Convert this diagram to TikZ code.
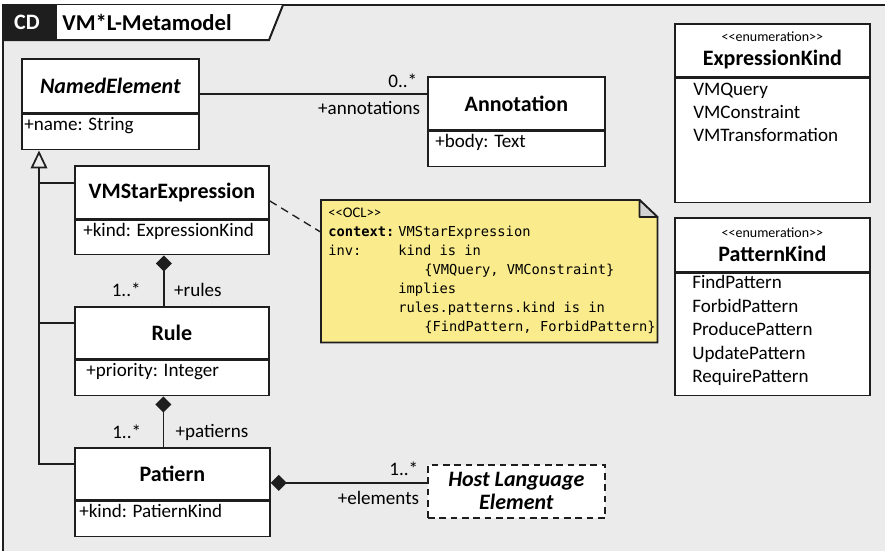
\documentclass[tikz,border=0pt]{standalone}
\usepackage{fontspec}
\setmainfont{Carlito}
\newfontfamily\oclmono{DejaVu Sans Mono}
\usetikzlibrary{arrows.meta,calc}

\definecolor{canvas}{HTML}{EBEBEB}
\definecolor{notefill}{HTML}{FAEC8C}
\definecolor{foldgray}{HTML}{D2D2D2}
\definecolor{ink}{HTML}{1E1E1E}

% guillemet-free stereotype brackets
\newcommand\stereo[1]{<\kern0pt<#1>\kern0pt>}

\tikzset{
  umlhead/.style={draw=ink, fill=white, line width=1.3pt, anchor=north west,
    inner sep=0pt, align=center, font=\fontsize{16.5}{17.25}\selectfont\bfseries},
  umlbody/.style={draw=ink, fill=white, line width=1.3pt, anchor=north west, inner sep=0pt},
  attrtext/.style={anchor=north west, inner xsep=0pt, inner ysep=2.5pt,
    font=\fontsize{14.3}{17}\selectfont},
  literal/.style={anchor=base west, inner sep=0pt, font=\fontsize{14.3}{17}\selectfont},
  role/.style={font=\fontsize{14.3}{17}\selectfont, inner sep=0pt},
  assoc/.style={draw=ink, line width=1.3pt},
  compose/.style={assoc, -{Diamond[length=12pt,width=12pt]}},
  inherit/.style={assoc, -{Triangle[open,length=13.5pt,width=12.5pt]}},
  ocl/.style={anchor=base west, inner sep=0pt, font=\oclmono\fontsize{10.3}{12}\selectfont},
}

% class box: name, x, y, width, head height, body height, title, attribute, indent (px)
\newcommand\umlclass[9]{%
  \node[umlhead, minimum width=#4*0.75pt, minimum height=#5*0.75pt] (#1) at (#2,#3) {#7};
  \node[umlbody, minimum width=#4*0.75pt, minimum height=#6*0.75pt] (#1-b) at (#1.south west) {};
  \node[attrtext] at ($(#1-b.north west)+(#9,0)$) {#8};
}

\begin{document}
\begin{tikzpicture}[x=0.75pt,y=-0.75pt]
\useasboundingbox (0,0) rectangle (885,550);

% diagram frame
\fill[canvas] (3,5) rectangle (886,551);
\draw[ink, line width=1.5pt] (3,551) -- (3,5) -- (886,5);
\fill[ink] (3,5) rectangle (57,40);
\fill[white] (57,5) -- (283,5) -- (269,40) -- (57,40) -- cycle;
\draw[ink, line width=1.5pt] (3,40) -- (269,40) -- (283,5);
\node[text=white, font=\fontsize{16.5}{18}\selectfont\bfseries] (cd) at (27,22) {CD};
\node[font=\fontsize{17}{19}\selectfont\bfseries] (title) at (147,22) {VM*L-Metamodel};

% classes
\umlclass{ne}{21}{58}{177}{54}{35}{\itshape NamedElement}{+name: String}{3}
\umlclass{ann}{427}{76}{177}{53}{35}{Annotation}{+body: Text}{8}
\umlclass{vmse}{74}{165}{194}{53}{34}{VMStarExpression}{+kind: ExpressionKind}{9}
\umlclass{rule}{74}{306}{194}{52}{35}{Rule}{+priority: Integer}{12}
\umlclass{pat}{74}{447}{195}{52}{35}{Patiern}{+kind: PatiernKind}{5}

\node[umlhead, dashed, dash pattern=on 5pt off 3.5pt, font=\fontsize{16.5}{17.25}\selectfont\bfseries\itshape,
  minimum width=177*0.75pt, minimum height=53*0.75pt] (hle) at (427,464) {Host Language\\Element};

% enumerations
\node[umlhead, minimum width=195*0.75pt, minimum height=53*0.75pt] (ek) at (674,23)
  {{\fontsize{10.5}{12}\selectfont\mdseries\stereo{enumeration}}\\[0.5pt]ExpressionKind};
\node[umlbody, minimum width=195*0.75pt, minimum height=124*0.75pt] (ek-b) at (ek.south west) {};
\foreach \lit [count=\i from 0] in {VMQuery,VMConstraint,VMTransformation}
  \node[literal] at ($(ek-b.north west)+(19,18+23*\i)$) {\lit};

\node[umlhead, minimum width=195*0.75pt, minimum height=54*0.75pt] (pk) at (674,217)
  {{\fontsize{10.5}{12}\selectfont\mdseries\stereo{enumeration}}\\[0.5pt]PatternKind};
\node[umlbody, minimum width=195*0.75pt, minimum height=122*0.75pt] (pk-b) at (pk.south west) {};
\foreach \lit [count=\i from 0] in {FindPattern,ForbidPattern,ProducePattern,UpdatePattern,RequirePattern}
  \node[literal] at ($(pk-b.north west)+(18,16+23.5*\i)$) {\lit};

% OCL note
\node[anchor=north west, inner sep=0pt, minimum width=336*0.75pt, minimum height=142*0.75pt] (note) at (321,200) {};
\filldraw[fill=notefill, draw=ink, line width=1.3pt]
  (note.north west) -- ($(note.north east)+(-18,0)$) -- ($(note.north east)+(0,17)$)
  -- (note.south east) -- (note.south west) -- cycle;
\filldraw[fill=foldgray, draw=ink, line width=1.3pt, line join=round]
  ($(note.north east)+(-18,0)$) -- ($(note.north east)+(-18,17)$) -- ($(note.north east)+(0,17)$) -- cycle;
\node[anchor=base west, inner sep=0pt, font=\fontsize{11}{13}\selectfont] at (328,217) {\stereo{OCL}};
\node[ocl] at (328,236) {\bfseries context:};
\node[ocl] at (398,236) {VMStarExpression};
\node[ocl] at (328,255) {inv:};
\node[ocl] at (398,255) {kind is in};
\node[ocl] at (424,274) {\{VMQuery, VMConstraint\}};
\node[ocl] at (398,293) {implies};
\node[ocl] at (398,312) {rules.patterns.kind is in};
\node[ocl] at (424,331) {\{FindPattern, ForbidPattern\}};

\draw[ink, line width=1pt, dash pattern=on 6pt off 4pt] ([yshift=-6.4pt]vmse.east) -- ([yshift=29.25pt]note.west);

% NamedElement -- Annotation
\coordinate (nej) at ([yshift=-6pt]ne.east);
\draw[assoc] (nej) -- (ann.west |- nej)
  node[pos=1, role, anchor=south east, xshift=-6.75pt, yshift=3.75pt] {0..*}
  node[pos=1, role, anchor=north east, xshift=-4.5pt, yshift=-5pt] {+annotations};

% generalizations
\coordinate (gtip) at ($(ne-b.south west)+(18,0)$);
\coordinate (gv) at ([yshift=7pt]vmse.west);
\coordinate (gr) at ([yshift=7.5pt]rule.west);
\coordinate (gp) at ([yshift=7.5pt]pat.west);
\draw[inherit] (gp) -| (gtip);
\draw[assoc] (gv) -- (gv -| gtip);
\draw[assoc] (gr) -- (gr -| gtip);

% compositions
\coordinate (rtop) at ([xshift=-6pt]rule.north);
\draw[compose] (rtop) -- (rtop |- vmse-b.south);
\node[role, anchor=east] at ($(rtop)+(-23,-16)$) {1..*};
\node[role, anchor=west] at ($(rtop)+(10,-16)$) {+rules};

\coordinate (ptop) at ([xshift=-6.75pt]pat.north);
\draw[compose] (ptop) -- (ptop |- rule-b.south);
\node[role, anchor=east] at ($(ptop)+(-22,-15)$) {1..*};
\node[role, anchor=west] at ($(ptop)+(12,-15)$) {+patierns};

\coordinate (pj) at ([yshift=-6.75pt]pat.east);
\draw[compose] (hle.west |- pj) -- (pj)
  node[pos=0, role, anchor=south east, xshift=-6pt, yshift=4.5pt] {1..*}
  node[pos=0, role, anchor=north east, xshift=-5.25pt, yshift=-6pt] {+elements};
\end{tikzpicture}
\end{document}
